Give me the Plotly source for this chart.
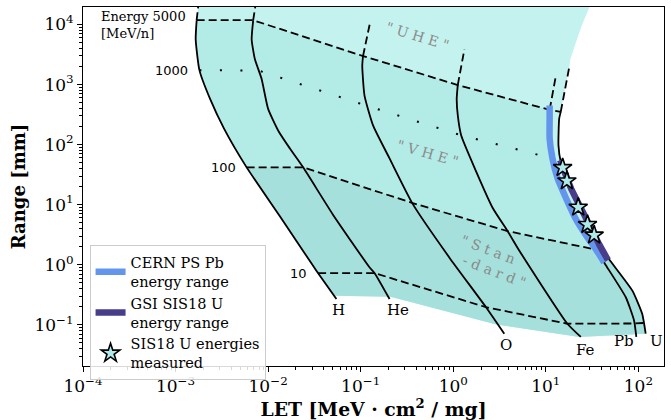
import numpy as np
import plotly.graph_objects as go

# ---------------------------------------------------------------------------
# Range in silicon [mm] versus LET [MeV cm^2/mg] for several ions.
# Each curve runs from 5000 MeV/n (first point) to its lowest energy (last).
# ---------------------------------------------------------------------------
H_let = [1.69e-3, 1.65e-3, 1.81e-3, 2.36e-3, 3.34e-3, 5.86e-3, 0.0134, 0.0306, 0.0347, 0.0547]
H_rng = [1.18e4, 5.65e3, 1.74e3, 577, 185, 41.8, 6.41, 0.957, 0.723, 0.268]

He_let = [6.90e-3, 6.64e-3, 7.20e-3, 8.51e-3, 0.0100, 0.01306, 0.0172, 0.0239, 0.0502, 0.125, 0.1416, 0.205]
He_rng = [1.18e4, 5.65e3, 2.64e3, 1.24e3, 394, 164, 86.1, 41.8, 6.82, 0.898, 0.723, 0.268]

O_let = [0.106, 0.104, 0.110, 0.136, 0.205, 0.366, 0.910, 2.26, 3.56]
O_rng = [2.99e3, 2.05e3, 655, 209, 58.9, 10.2, 1.31, 0.196, 0.0710]

Fe_let = [1.119, 1.09, 1.12, 1.217, 1.77, 2.67, 3.87, 5.18, 17.1, 23.9]
Fe_rng = [982, 577, 306, 143, 35.5, 8.79, 3.62, 1.71, 0.104, 0.0627]

Pb_let = [11.0, 11.0, 11.0, 11.8, 13.4, 16.5, 20.8, 28.3, 35.0, 43.8, 73.1, 89.8, 95.1]
Pb_rng = [379, 270, 126, 58.9, 27.5, 12.9, 6.01, 2.81, 1.78, 1.02, 0.287, 0.118, 0.0627]

U_let = [14.5, 13.95, 13.7, 14.5, 18.7, 27.1, 37.7, 48.3, 86.1, 110, 120]
U_rng = [351, 270, 97.8, 52.0, 18.8, 6.01, 2.18, 1.23, 0.370, 0.152, 0.0710]

ion_names = ["H", "He", "O", "Fe", "Pb", "U"]

# high-energy continuation above 5000 MeV/n (end point of the dashed part)
ext_let = [1.79e-3, 7.46e-3, 0.125, 1.32, 12.85, 17.9]
ext_rng = [2.59e4, 2.59e4, 1.0e4, 3.86e3, 1.40e3, 1.93e3]

# upper edge of the covered region beyond the U continuation
Utop_let = [18.4, 21.1, 24.7, 32.0]
Utop_rng = [2.64e3, 4.99e3, 1.0e4, 2.59e4]

# lower edge of the covered region (lowest energies), H -> U
low_let = [0.0518, 0.210, 2.92, 23.0, 120]
low_rng = [0.303, 0.292, 0.1007, 0.0627, 0.0710]

# iso-energy lines [MeV/n], points on H, He, O, Fe, Pb (, U)
E5000_let = [1.69e-3, 6.90e-3, 0.106, 1.119, 11.0, 14.5]
E5000_rng = [1.18e4, 1.18e4, 2.99e3, 982, 379, 351]
E1000_let = [1.81e-3, 7.89e-3, 0.113, 1.217, 11.8]
E1000_rng = [1.74e3, 1.71e3, 451, 143, 58.9]
E100_let = [5.86e-3, 0.0239, 0.366, 3.87, 35.0]
E100_rng = [41.8, 41.8, 10.6, 3.62, 1.78]
E10_let = [0.0347, 0.1416, 2.26, 17.1, 92.0, 115]
E10_rng = [0.723, 0.723, 0.196, 0.104, 0.105, 0.107]

# accelerator energy ranges
CERN_let = [11.0, 11.0, 11.0, 11.8, 13.4, 16.5, 20.8, 28.3, 35.0, 42.7]
CERN_rng = [447, 270, 126, 58.9, 27.5, 12.9, 6.01, 2.81, 1.78, 1.09]
GSI_let = [14.3, 18.7, 27.1, 37.7, 47.0]
GSI_rng = [55.0, 18.8, 6.01, 2.18, 1.19]

# U energies measured at SIS18
star_let = [15.2, 16.9, 22.4, 28.2, 33.3]
star_rng = [41.3, 24.8, 9.04, 4.66, 3.11]

# axis ticks
x_tickvals = [1e-4, 1e-3, 1e-2, 1e-1, 1e0, 1e1, 1e2]
x_ticktext = ["10<sup>−4</sup>", "10<sup>−3</sup>", "10<sup>−2</sup>", "10<sup>−1</sup>",
              "10<sup>0</sup>", "10<sup>1</sup>", "10<sup>2</sup>"]
y_tickvals = [1e-1, 1e0, 1e1, 1e2, 1e3, 1e4]
y_ticktext = ["10<sup>−1</sup>", "10<sup>0</sup>", "10<sup>1</sup>", "10<sup>2</sup>",
              "10<sup>3</sup>", "10<sup>4</sup>"]

SERIF = "DejaVu Serif"
SANS = "DejaVu Sans"

ion_let = [H_let, He_let, O_let, Fe_let, Pb_let, U_let]
ion_rng = [H_rng, He_rng, O_rng, Fe_rng, Pb_rng, U_rng]

fig = go.Figure()


def add_fill(xs, ys, color):
    fig.add_trace(go.Scatter(x=xs, y=ys, mode="lines", fill="toself", fillcolor=color,
                             line=dict(width=0, color=color), hoverinfo="skip",
                             showlegend=False))


# whole covered region ("UHE" tint)
light_x = [ext_let[0]] + H_let[:9] + low_let + U_let[::-1] + [ext_let[5]] + Utop_let
light_y = [ext_rng[0]] + H_rng[:9] + low_rng + U_rng[::-1] + [ext_rng[5]] + Utop_rng
add_fill(light_x, light_y, "#c4f3ef")

# 5000 - 100 MeV/n ("VHE")
mid_x = E5000_let[:5] + Pb_let[1:9] + E100_let[::-1] + H_let[5::-1]
mid_y = E5000_rng[:5] + Pb_rng[1:9] + E100_rng[::-1] + H_rng[5::-1]
add_fill(mid_x, mid_y, "#b3ebe7")

# below 100 MeV/n ("Standard")
low_x = E100_let + U_let[6:] + low_let[::-1] + H_let[8:4:-1]
low_y = E100_rng + U_rng[6:] + low_rng[::-1] + H_rng[8:4:-1]
add_fill(low_x, low_y, "#a5e0dc")

DASH = "8px,4px"
CURVE = dict(color="black", width=1.8, shape="spline", smoothing=0.5)

# ion curves
for lx, ly, ex, ey in zip(ion_let, ion_rng, ext_let, ext_rng):
    fig.add_trace(go.Scatter(x=lx, y=ly, mode="lines", showlegend=False, hoverinfo="skip",
                             line=CURVE))
    fig.add_trace(go.Scatter(x=[lx[0], ex], y=[ly[0], ey], mode="lines", showlegend=False,
                             hoverinfo="skip", line=dict(color="black", width=1.8, dash=DASH)))

# iso-energy lines
for lx, ly, dash in [(E5000_let, E5000_rng, DASH), (E100_let, E100_rng, DASH),
                     (E10_let, E10_rng, DASH), (E1000_let, E1000_rng, "2px,18.5px")]:
    fig.add_trace(go.Scatter(x=lx, y=ly, mode="lines", showlegend=False, hoverinfo="skip",
                             line=dict(color="black", width=1.8 if dash == DASH else 2, dash=dash)))

# accelerator ranges and measured points
fig.add_trace(go.Scatter(x=CERN_let, y=CERN_rng, mode="lines", name="CERN PS Pb<br>energy range",
                         line=dict(color="#6495ed", width=6.5, shape="spline", smoothing=0.5),
                         hoverinfo="skip"))
fig.add_trace(go.Scatter(x=GSI_let, y=GSI_rng, mode="lines", name="GSI SIS18 U<br>energy range",
                         line=dict(color="#483d8b", width=6.5, shape="spline", smoothing=0.5),
                         hoverinfo="skip"))
fig.add_trace(go.Scatter(x=star_let, y=star_rng, mode="markers", name="SIS18 U energies<br>measured",
                         marker=dict(symbol="star", size=14, color="#aeeaea",
                                     line=dict(color="black", width=1.6)),
                         hoverinfo="skip"))

L = np.log10
annotations = []

# iso-energy labels, placed left of the H curve
annotations.append(dict(x=L(E5000_let[0]), y=L(E5000_rng[0]), text="Energy 5000<br>[MeV/n]",
                        xanchor="right", yanchor="middle", align="left", xshift=-9, yshift=-5,
                        font=dict(family=SERIF, size=13, color="black")))
for lx, ly, txt in [(E1000_let, E1000_rng, "1000"), (E100_let, E100_rng, "100"),
                    (E10_let, E10_rng, "10")]:
    annotations.append(dict(x=L(lx[0]), y=L(ly[0]), text=txt, xanchor="right", yanchor="middle",
                            xshift=-9, font=dict(family=SANS, size=13, color="black")))

# ion names at the low-energy end of each curve
ion_anchor = {"H": ("center", "top", 2, 0), "He": ("center", "top", 8, 0),
              "O": ("center", "top", 2, 0), "Fe": ("center", "top", 5, -2),
              "Pb": ("right", "middle", 0, -4), "U": ("left", "middle", 2, -7)}
for name, lx, ly in zip(ion_names, ion_let, ion_rng):
    xa, ya, xs, ys = ion_anchor[name]
    annotations.append(dict(x=L(lx[-1]), y=L(ly[-1]), text=name, xanchor=xa, yanchor=ya,
                            xshift=xs, yshift=ys, font=dict(family=SERIF, size=15, color="black")))

# energy-regime labels
grey = dict(family=SERIF, size=14, color="#8a8a8a")
annotations.append(dict(x=L(0.411), y=L(6.34e3), text='"\u00a0U\u00a0H\u00a0E\u00a0"',
                        textangle=17, font=grey))
annotations.append(dict(x=L(0.526), y=L(71.3), text='"\u00a0V\u00a0H\u00a0E\u00a0"',
                        textangle=16, font=grey))
annotations.append(dict(x=L(2.70), y=L(1.17),
                        text='"\u00a0S\u00a0t\u00a0a\u00a0n<br>\u00a0\u00a0-\u00a0d\u00a0a\u00a0r\u00a0d\u00a0"',
                        textangle=21, align="left", font=grey))

for a in annotations:
    a.setdefault("showarrow", False)
    a.setdefault("xref", "x")
    a.setdefault("yref", "y")

minor_x = [k * 10.0 ** e for e in range(-4, 3) for k in range(2, 10)]
minor_y = [k * 10.0 ** e for e in range(-2, 5) for k in range(2, 10)]

axis_common = dict(type="log", showgrid=False, zeroline=False, showline=True, mirror=True,
                   linecolor="black", linewidth=1, ticks="outside", ticklen=5, tickwidth=1,
                   tickcolor="black", tickfont=dict(family=SERIF, size=17, color="black"))

fig.update_layout(
    width=671, height=420,
    margin=dict(l=83, r=6, t=7, b=51),
    paper_bgcolor="white", plot_bgcolor="white",
    font=dict(family=SERIF, color="black"),
    xaxis=dict(**axis_common, range=[-4, 2.277], tickmode="array", tickvals=x_tickvals,
               ticktext=x_ticktext,
               minor=dict(tickmode="array", tickvals=minor_x, ticks="outside", ticklen=3,
                          tickcolor="black", tickwidth=0.8),
               title=dict(text="<b>LET [MeV · cm<sup>2</sup> / mg]</b>", standoff=4,
                          font=dict(family=SERIF, size=18.8, color="black"))),
    yaxis=dict(**axis_common, range=[-1.687, 4.292], tickmode="array", tickvals=y_tickvals,
               ticktext=y_ticktext,
               minor=dict(tickmode="array", tickvals=minor_y, ticks="outside", ticklen=3,
                          tickcolor="black", tickwidth=0.8),
               title=dict(text="<b>Range [mm]</b>", standoff=4,
                          font=dict(family=SERIF, size=18, color="black"))),
    legend=dict(x=0.0113, y=0.336, xanchor="left", yanchor="top",
                bgcolor="rgba(255,255,255,0.85)", bordercolor="#cccccc", borderwidth=1,
                font=dict(family=SERIF, size=14.5, color="black"), tracegroupgap=0),
    annotations=annotations,
    showlegend=True,
)

fig.write_html("out.html")
